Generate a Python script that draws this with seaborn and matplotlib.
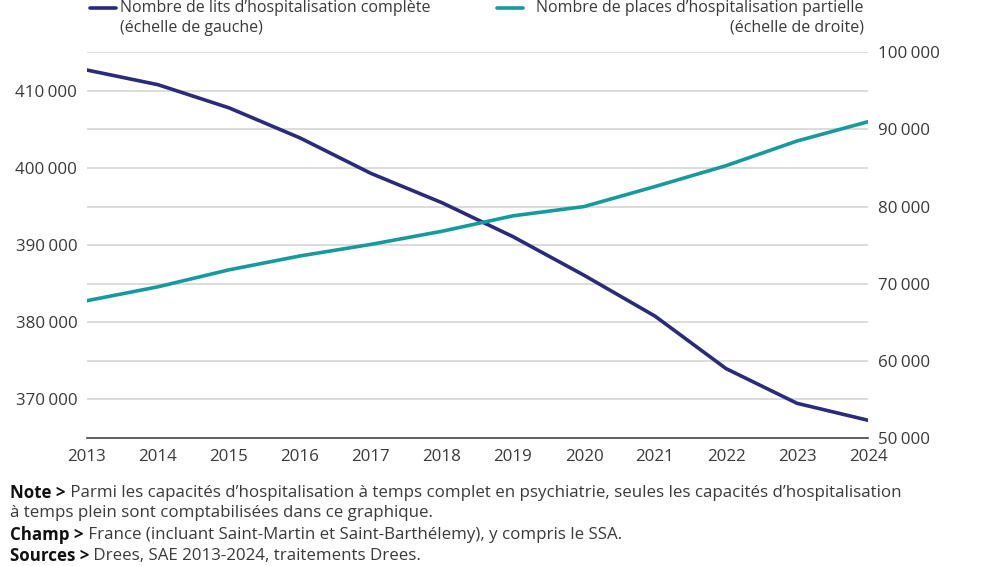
import matplotlib
matplotlib.use("Agg")
import matplotlib.pyplot as plt
import seaborn as sns
import pandas as pd
from matplotlib.ticker import FuncFormatter

years = list(range(2013, 2025))
lits_complete = [412700, 410800, 407800, 403900, 399300, 395500,
                 391100, 386100, 380800, 374000, 369500, 367300]
places_partielle = [67800, 69600, 71800, 73600, 75100, 76800,
                    78800, 80000, 82600, 85300, 88500, 91000]
label_left = "Nombre de lits d\u2019hospitalisation complète\n(échelle de gauche)"
label_right = "Nombre de places d\u2019hospitalisation partielle\n(échelle de droite)"

navy = "#2a2b7a"
teal = "#169a9c"
grey_txt = "#3a3a3a"
grid_c = "#d9d9d9"

sns.set_theme(style="white")
plt.rcParams["font.family"] = ["Open Sans", "DejaVu Sans"]

df = pd.DataFrame({"annee": years, "lits": lits_complete, "places": places_partielle})

fig = plt.figure(figsize=(9.86, 5.66), dpi=100)
ax = fig.add_axes([87/986, 1-438/566, (868-87)/986, (438-52.3)/566])
ax2 = ax.twinx()

sns.lineplot(data=df, x="annee", y="lits", ax=ax, color=navy, lw=2.6, zorder=5)
sns.lineplot(data=df, x="annee", y="places", ax=ax2, color=teal, lw=2.6, zorder=5)

ax.set_xlim(2013, 2024)
ax.set_ylim(365000, 415000)
ax2.set_ylim(50000, 100000)

fmt = FuncFormatter(lambda v, p: f"{int(v):,}".replace(",", "\u202f"))
ax.set_yticks([370000, 380000, 390000, 400000, 410000])
ax.yaxis.set_major_formatter(fmt)
ax2.set_yticks([50000, 60000, 70000, 80000, 90000, 100000])
ax2.yaxis.set_major_formatter(fmt)
ax.set_xticks(years)

for v in range(370000, 415001, 5000):
    ax.axhline(v, color=grid_c, lw=1.3, zorder=0)

for a in (ax, ax2):
    for s in ("top", "left", "right"):
        a.spines[s].set_visible(False)
    a.set_xlabel("")
    a.set_ylabel("")
ax.spines["bottom"].set_color("#444444")
ax.spines["bottom"].set_linewidth(1.2)
ax2.spines["bottom"].set_visible(False)

fs_tick = 12.2
fs_leg = 11.5
fs_note = 12.2
ax.tick_params(axis="x", direction="out", length=7, width=1.1, color="#444444",
               labelsize=fs_tick, labelcolor=grey_txt, pad=1)
ax.tick_params(axis="y", length=0, labelsize=fs_tick, labelcolor=grey_txt, pad=7)
ax2.tick_params(axis="y", length=0, labelsize=fs_tick, labelcolor=grey_txt, pad=7)

# legend
fig.add_artist(plt.Line2D([90/986, 116/986], [1-8/566, 1-8/566], color=navy, lw=2.6))
fig.text(120/986, 1-8.5/566, label_left.split("\n")[0], ha="left", va="center",
         fontsize=fs_leg, color=grey_txt)
fig.text(120/986, 1-27.5/566, label_left.split("\n")[1], ha="left", va="center",
         fontsize=fs_leg, color=grey_txt)
fig.add_artist(plt.Line2D([497/986, 523/986], [1-8/566, 1-8/566], color=teal, lw=2.6))
fig.text(864/986, 1-8.5/566, label_right.split("\n")[0], ha="right", va="center",
         fontsize=fs_leg, color=grey_txt)
fig.text(864/986, 1-27.5/566, label_right.split("\n")[1], ha="right", va="center",
         fontsize=fs_leg, color=grey_txt)

# notes
notes = [
    ("Note >", " Parmi les capacités d\u2019hospitalisation à temps complet en psychiatrie, seules les capacités d\u2019hospitalisation", 493),
    ("", "à temps plein sont comptabilisées dans ce graphique.", 513),
    ("Champ >", " France (incluant Saint-Martin et Saint-Barthélemy), y compris le SSA.", 535),
    ("Sources >", " Drees, SAE 2013-2024, traitements Drees.", 556),
]
renderer = fig.canvas.get_renderer()
for bold, rest, y in notes:
    x0 = 10/986
    if bold:
        t = fig.text(x0, 1-y/566, bold, ha="left", va="center", fontsize=fs_note,
                     fontweight="bold", color="#111111")
        bb = t.get_window_extent(renderer=renderer)
        x0 = bb.x1 / fig.bbox.width
    fig.text(x0, 1-y/566, rest, ha="left", va="center", fontsize=fs_note, color=grey_txt)

fig.savefig("out.png", dpi=100)
